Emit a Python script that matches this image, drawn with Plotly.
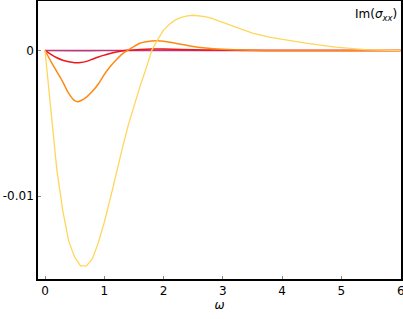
import plotly.graph_objects as go

omega_yellow = [0, 0.1, 0.2, 0.3, 0.4, 0.5, 0.6, 0.7, 0.8, 0.9, 1.0, 1.1, 1.2, 1.3, 1.4, 1.5, 1.6, 1.7,
                1.8, 1.9, 2.0, 2.1, 2.2, 2.3, 2.4, 2.5, 2.6, 2.7, 2.8, 3.0, 3.2, 3.5, 3.8, 4.0, 4.4,
                4.9, 5.4, 6.0]
im_yellow = [0, -4.2, -8.2, -11.0, -13.1, -14.2, -14.8, -14.8, -14.3, -13.2, -11.8, -10.2, -8.4, -6.8,
             -5.2, -3.8, -2.5, -1.3, 0.0, 0.75, 1.4, 1.8, 2.1, 2.28, 2.38, 2.42, 2.40, 2.33, 2.22,
             1.92, 1.6, 1.2, 0.9, 0.75, 0.5, 0.23, 0.06, 0.0]

omega_orange = [0, 0.1, 0.2, 0.3, 0.4, 0.5, 0.55, 0.6, 0.7, 0.8, 0.9, 1.0, 1.1, 1.2, 1.3, 1.4, 1.6,
                1.8, 1.9, 2.0, 2.2, 2.45, 2.7, 3.0, 3.5, 4.0, 6.0]
im_orange = [0, -0.75, -1.45, -2.15, -2.95, -3.45, -3.52, -3.45, -3.2, -2.8, -2.3, -1.65, -1.1, -0.65,
             -0.25, 0.02, 0.5, 0.66, 0.67, 0.64, 0.5, 0.31, 0.17, 0.08, 0.02, 0.005, 0.0]

omega_red = [0, 0.1, 0.2, 0.3, 0.4, 0.5, 0.6, 0.7, 0.8, 0.9, 1.0, 1.1, 1.2, 1.3, 1.4, 1.6, 1.8, 2.0,
             2.3, 2.7, 3.2, 4.0, 6.0]
im_red = [0, -0.27, -0.5, -0.67, -0.78, -0.84, -0.83, -0.75, -0.6, -0.45, -0.32, -0.2, -0.11, -0.04,
          0.01, 0.07, 0.1, 0.1, 0.07, 0.04, 0.015, 0.0, 0.0]

omega_purple = [0, 0.5, 1.0, 1.5, 2.0, 3.0, 4.0, 6.0]
im_purple = [0, -0.01, -0.005, 0.0, 0.005, 0.002, 0.0, 0.0]

y_tick_vals = [0, -0.01]
y_tick_text = ["0", "-0.01"]
x_tick_vals = [0, 1, 2, 3, 4, 5, 6]

series = [
    (omega_purple, im_purple, "#b83b7d", 1.6, "spline"),
    (omega_red, im_red, "#f0161c", 1.5, "spline"),
    (omega_orange, im_orange, "#fd8a14", 1.5, "spline"),
    (omega_yellow, im_yellow, "#ffd65a", 1.3, "linear"),
]

fig = go.Figure()
for xs, ys, col, w, shape in series:
    line = dict(color=col, width=w, shape=shape)
    if shape == "spline":
        line["smoothing"] = 0.8
    fig.add_trace(go.Scatter(x=xs, y=[v * 1e-3 for v in ys], mode="lines",
                             line=line, showlegend=False))

fig.update_layout(
    width=403, height=319,
    margin=dict(l=38, r=2, t=1, b=40),
    paper_bgcolor="white", plot_bgcolor="white",
    font=dict(family="DejaVu Sans", size=12, color="black"),
    xaxis=dict(range=[-0.118, 6.005], tickvals=x_tick_vals, showgrid=False, zeroline=False,
               showline=True, linecolor="black", linewidth=1.5, mirror=True,
               ticks="inside", ticklen=3, tickcolor="#888888", automargin=False,
               ticklabeloverflow="allow",
               title=dict(text="<i>ω</i>", font=dict(size=12), standoff=2)),
    yaxis=dict(range=[-0.0157, 0.0034], tickvals=y_tick_vals, ticktext=y_tick_text,
               showgrid=False, zeroline=False, automargin=False,
               showline=True, linecolor="black", linewidth=1.5, mirror=True,
               ticks="inside", ticklen=3, tickcolor="#888888"),
    annotations=[dict(text="Im(<i>σ</i><sub><i>xx</i></sub>)", xref="paper", yref="paper",
                      x=0.995, y=0.985, xanchor="right", yanchor="top", showarrow=False,
                      font=dict(size=12))],
)

fig.write_html("out.html", config={"displayModeBar": False},
               post_script="document.body.style.margin='0';document.body.style.overflow='hidden';")
